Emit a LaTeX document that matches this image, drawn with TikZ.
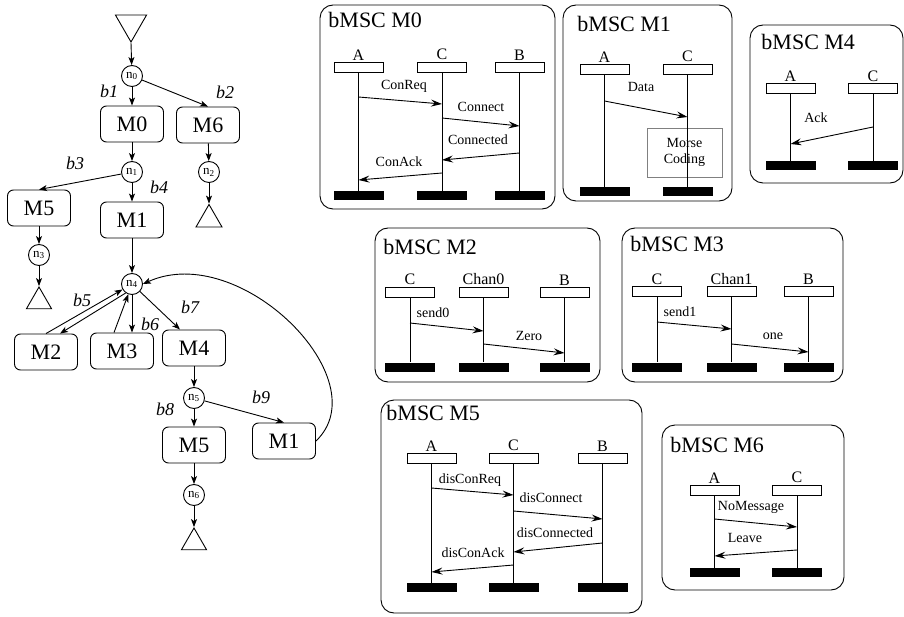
\documentclass[tikz,border=0pt]{standalone}
\usepackage{fontspec}
\setmainfont{Liberation Serif}
\usetikzlibrary{arrows.meta,shapes.geometric}

\begin{document}
\begin{tikzpicture}[x=1pt,y=-1pt,line width=0.9pt,
  state/.style={draw,rounded corners=6pt,minimum width=63pt,minimum height=36pt,inner sep=0pt,font=\fontsize{22}{22}\selectfont},
  conn/.style={draw,circle,minimum size=21pt,inner sep=0pt,font=\fontsize{13}{13}\selectfont},
  tri/.style={draw,regular polygon,regular polygon sides=3,inner sep=0pt},
  edge/.style={-{Stealth[length=8pt,width=6pt,inset=2pt]}},
  blab/.style={inner sep=0pt,font=\fontsize{18}{18}\selectfont\itshape},
  frame/.style={rounded corners=13pt},
  title/.style={anchor=base west,inner sep=0pt,font=\fontsize{22}{22}\selectfont},
  head/.style={draw,minimum width=49pt,minimum height=10pt,inner sep=0pt},
  hlab/.style={inner sep=1pt,font=\fontsize{16}{16}\selectfont},
  bar/.style={fill,minimum width=50pt,minimum height=9pt,inner sep=0pt},
  msg/.style={-{Stealth[length=11pt,width=7pt,inset=4pt]}},
  msgl/.style={inner sep=0pt,font=\fontsize{14}{14}\selectfont}]
\useasboundingbox (0,0) rectangle (904,617);

% hMSC
\node[tri,minimum size=36pt,rotate=180] (start) at (131,24) {};
\node[conn] (n0) at (132,76) {n\textsubscript{0}};
\node[state] (m0) at (132,124) {M0};
\node[state] (m6) at (208,125) {M6};
\node[conn] (n1) at (132,172) {n\textsubscript{1}};
\node[conn] (n2) at (209,172) {n\textsubscript{2}};
\node[tri,minimum size=30pt] (e2) at (209,219.5) {};
\node[state] (m5a) at (39,208) {M5};
\node[state] (m1a) at (132,220) {M1};
\node[conn] (n3) at (39,255) {n\textsubscript{3}};
\node[tri,minimum size=29pt] (e3) at (39,301.5) {};
\node[conn] (n4) at (132,284) {n\textsubscript{4}};
\node[state] (m2) at (46,352) {M2};
\node[state] (m3) at (122,351) {M3};
\node[state] (m4) at (194,348) {M4};
\node[conn] (n5) at (194,398) {n\textsubscript{5}};
\node[state] (m5b) at (194,445) {M5};
\node[state] (m1b) at (284,441) {M1};
\node[conn] (n6) at (194,495) {n\textsubscript{6}};
\node[tri,minimum size=29pt] (e6) at (194,542.5) {};

\node[blab] (b1) at (109,91) {b1};
\node[blab] (b2) at (225,92) {b2};
\node[blab] (b3) at (75,163) {b3};
\node[blab] (b4) at (159,187) {b4};
\node[blab] (b5) at (82,300) {b5};
\node[blab] (b6) at (150,324) {b6};
\node[blab] (b7) at (190,307) {b7};
\node[blab] (b8) at (165,409) {b8};
\node[blab] (b9) at (261,397) {b9};

\draw[edge] (start.corner 1) -- (n0);
\draw[edge] (n0) -- (m0);
\draw[edge] (n0) -- (m6.north);
\draw[edge] (m0) -- (n1);
\draw[edge] (m6) -- (n2);
\draw[edge] (n2) -- (e2.corner 1);
\draw[edge] (n1) -- (m5a.north);
\draw[edge] (n1) -- (m1a);
\draw[edge] (m5a) -- (n3);
\draw[edge] (n3) -- (e3.corner 1);
\draw[edge] (m1a) -- (n4);
\draw[edge] (m2.north) -- (n4.210);
\draw[edge] (n4.235) -- ([xshift=14pt]m2.north);
\draw[edge] ([xshift=-8pt]m3.north) -- (n4.250);
\draw[edge] (n4) -- (n4 |- m3.north);
\draw[edge] (n4) -- ([xshift=-14pt]m4.north);
\draw[edge] (m4) -- (n5);
\draw[edge] (n5) -- (m5b);
\draw[edge] (n5) -- (m1b.north);
\draw[edge] (m5b) -- (n6);
\draw[edge] (n6) -- (e6.corner 1);
\draw[edge] (m1b.east) .. controls (380,380) and (240,240) .. (n4.east);

% bMSC M0
\draw[frame] (320,5) rectangle (555,209);
\node[title] (t0) at (328,28) {bMSC M0};
\node[head,label={[hlab]above:A}] (m0A) at (358.5,67) {};
\node[head,label={[hlab]above:C}] (m0C) at (442,67) {};
\node[head,label={[hlab]above:B}] (m0B) at (519.5,67) {};
\node[bar] (m0Ax) at (358.5,196) {};
\node[bar] (m0Cx) at (442,196) {};
\node[bar] (m0Bx) at (519.5,196) {};
\draw (m0A) -- (m0Ax);
\draw (m0C) -- (m0Cx);
\draw (m0B) -- (m0Bx);
\draw[msg] (m0A |- 0,97) -- (m0C |- 0,104);
\draw[msg] (m0C |- 0,118) -- (m0B |- 0,126);
\draw[msg] (m0B |- 0,153) -- (m0C |- 0,160);
\draw[msg] (m0C |- 0,173) -- (m0A |- 0,180);
\node[msgl] (m0l1) at (404,86) {ConReq};
\node[msgl] (m0l2) at (481,107) {Connect};
\node[msgl] (m0l3) at (478,140) {Connected};
\node[msgl] (m0l4) at (399,162) {ConAck};

% bMSC M1
\draw[frame] (563,5) rectangle (732,201);
\node[title] (t1) at (577,32) {bMSC M1};
\node[head,label={[hlab]above:A}] (m1A) at (604.5,69) {};
\node[head,label={[hlab]above:C}] (m1C) at (687.5,69) {};
\node[bar] (m1Ax) at (604.5,191.5) {};
\node[bar] (m1Cx) at (687.5,191.5) {};
\node[draw=gray,line width=0.6pt,minimum width=75pt,minimum height=49pt,align=center,
  font=\fontsize{14}{16}\selectfont] (morse) at (684.5,152.5) {Morse\\Coding};
\draw (m1A) -- (m1Ax);
\draw (m1C) -- (m1Cx);
\draw[msg] (m1A |- 0,101) -- (m1C |- 0,117);
\node[msgl] (m1l1) at (641,87) {Data};

% bMSC M4
\draw[frame] (750,25) rectangle (903,183);
\node[title] (t4) at (761,50) {bMSC M4};
\node[head,label={[hlab]above:A}] (m4A) at (790.5,88.5) {};
\node[head,label={[hlab]above:C}] (m4C) at (873,88.5) {};
\node[bar] (m4Ax) at (790.5,166) {};
\node[bar] (m4Cx) at (873,166) {};
\draw (m4A) -- (m4Ax);
\draw (m4C) -- (m4Cx);
\draw[msg] (m4C |- 0,127) -- (m4A |- 0,144);
\node[msgl] (m4l1) at (816,118) {Ack};

% bMSC M2
\draw[frame] (375,228) rectangle (600,382);
\node[title] (t2) at (383,255) {bMSC M2};
\node[head,label={[hlab]above:C}] (m2C) at (410,292) {};
\node[head,label={[hlab]above:Chan0}] (m2H) at (483.5,292) {};
\node[head,label={[hlab]above:B}] (m2B) at (564.5,292) {};
\node[bar] (m2Cx) at (410,367) {};
\node[bar] (m2Hx) at (483.5,367) {};
\node[bar] (m2Bx) at (564.5,367) {};
\draw (m2C) -- (m2Cx);
\draw (m2H) -- (m2Hx);
\draw (m2B) -- (m2Bx);
\draw[msg] (m2C |- 0,323) -- (m2H |- 0,331);
\draw[msg] (m2H |- 0,344) -- (m2B |- 0,353);
\node[msgl] (m2l1) at (433,313) {send0};
\node[msgl] (m2l2) at (529,336) {Zero};

% bMSC M3
\draw[frame] (622,228) rectangle (843,382);
\node[title] (t3) at (630,252) {bMSC M3};
\node[head,label={[hlab]above:C}] (m3C) at (657,291.5) {};
\node[head,label={[hlab]above:Chan1}] (m3H) at (731.5,291.5) {};
\node[head,label={[hlab]above:B}] (m3B) at (808.5,291.5) {};
\node[bar] (m3Cx) at (657,367) {};
\node[bar] (m3Hx) at (731.5,367) {};
\node[bar] (m3Bx) at (808.5,367) {};
\draw (m3C) -- (m3Cx);
\draw (m3H) -- (m3Hx);
\draw (m3B) -- (m3Bx);
\draw[msg] (m3C |- 0,322) -- (m3H |- 0,329);
\draw[msg] (m3H |- 0,344) -- (m3B |- 0,352);
\node[msgl] (m3l1) at (680,312) {send1};
\node[msgl] (m3l2) at (773,336) {one};

% bMSC M5
\draw[frame] (381,400) rectangle (642,613);
\node[title] (t5) at (386,420) {bMSC M5};
\node[head,label={[hlab]above:A}] (m5A) at (431.5,458) {};
\node[head,label={[hlab]above:C}] (m5C) at (513.5,458) {};
\node[head,label={[hlab]above:B}] (m5B) at (602.5,458) {};
\node[bar] (m5Ax) at (431.5,587.5) {};
\node[bar] (m5Cx) at (513.5,587.5) {};
\node[bar] (m5Bx) at (602.5,587.5) {};
\draw (m5A) -- (m5Ax);
\draw (m5C) -- (m5Cx);
\draw (m5B) -- (m5Bx);
\draw[msg] (m5A |- 0,488) -- (m5C |- 0,495);
\draw[msg] (m5C |- 0,511) -- (m5B |- 0,519);
\draw[msg] (m5B |- 0,543) -- (m5C |- 0,552);
\draw[msg] (m5C |- 0,565) -- (m5A |- 0,572);
\node[msgl] (m5l1) at (470,480) {disConReq};
\node[msgl] (m5l2) at (551,498) {disConnect};
\node[msgl] (m5l3) at (555,533) {disConnected};
\node[msgl] (m5l4) at (473,553) {disConAck};

% bMSC M6
\draw[frame] (662,425) rectangle (844,590);
\node[title] (t6) at (670,452) {bMSC M6};
\node[head,label={[hlab]above:A}] (m6A) at (714.5,490) {};
\node[head,label={[hlab]above:C}] (m6C) at (797,490) {};
\node[bar] (m6Ax) at (714.5,572.5) {};
\node[bar] (m6Cx) at (797,572.5) {};
\draw (m6A) -- (m6Ax);
\draw (m6C) -- (m6Cx);
\draw[msg] (m6A |- 0,519) -- (m6C |- 0,527);
\draw[msg] (m6C |- 0,550) -- (m6A |- 0,556);
\node[msgl] (m6l1) at (751,507) {NoMessage};
\node[msgl] (m6l2) at (745,538) {Leave};
\end{tikzpicture}
\end{document}
